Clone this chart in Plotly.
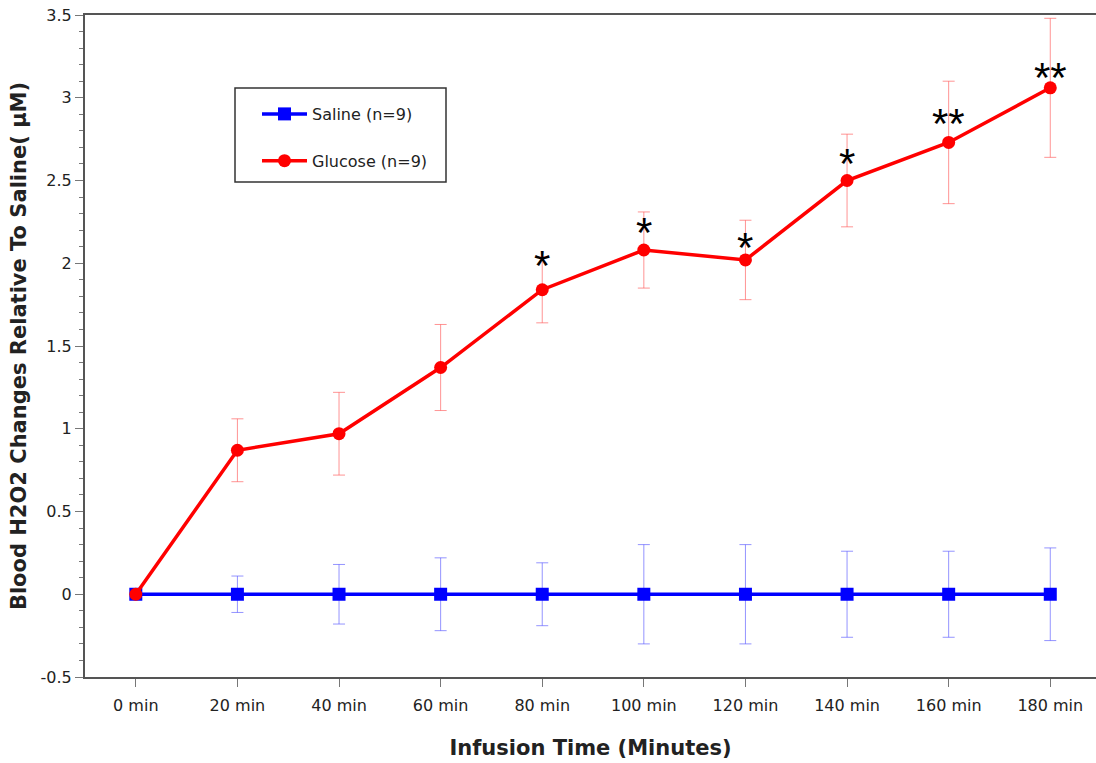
import plotly.graph_objects as go

categories = ["0 min", "20 min", "40 min", "60 min", "80 min", "100 min", "120 min", "140 min", "160 min", "180 min"]
saline = [0, 0, 0, 0, 0, 0, 0, 0, 0, 0]
saline_err = [0, 0.11, 0.18, 0.22, 0.19, 0.30, 0.30, 0.26, 0.26, 0.28]
glucose = [0, 0.87, 0.97, 1.37, 1.84, 2.08, 2.02, 2.50, 2.73, 3.06]
glucose_err = [0, 0.19, 0.25, 0.26, 0.20, 0.23, 0.24, 0.28, 0.37, 0.42]
sig_cats = ["80 min", "100 min", "120 min", "140 min", "160 min", "180 min"]
sig_text = ["*", "*", "*", "*", "**", "**"]
sig_y = [2.02, 2.22, 2.13, 2.64, 2.88, 3.16]

L, T, W, H = 85, 15, 1011, 662
def px(x):
    return (x - L) / W
def py(y):
    return 1 - (y - T) / H

FONT = "DejaVu Sans"

fig = go.Figure()
fig.add_trace(go.Scatter(
    x=categories, y=saline, name="Saline (n=9)", mode="lines+markers", legendgroup="s",
    line=dict(color="#0000ff", width=3.5),
    marker=dict(symbol="square", size=13, color="#0000ff"),
    error_y=dict(type="data", array=saline_err, color="rgba(90,90,255,0.65)", thickness=1, width=6),
))
fig.add_trace(go.Scatter(
    x=categories, y=glucose, name="Glucose (n=9)", mode="lines+markers", legendgroup="g",
    line=dict(color="#ff0000", width=3.5),
    marker=dict(symbol="circle", size=13, color="#ff0000"),
    error_y=dict(type="data", array=glucose_err, color="rgba(255,90,90,0.65)", thickness=1, width=6),
))

for c, t, yv in zip(sig_cats, sig_text, sig_y):
    fig.add_annotation(x=c, y=yv, text=t, showarrow=False, yshift=-6,
                       font=dict(family="Liberation Sans, Arial", size=42, color="black"))

fig.add_shape(type="rect", xref="paper", yref="paper",
              x0=px(235), x1=px(446), y0=py(182), y1=py(88),
              line=dict(color="#333333", width=1.5), fillcolor="rgba(0,0,0,0)")

fig.update_layout(
    width=1096, height=763,
    margin=dict(l=L, r=0, t=T, b=86),
    plot_bgcolor="white", paper_bgcolor="white",
    font=dict(family=FONT, color="#222222"),
    showlegend=True,
    legend=dict(x=px(257), y=py(97), xanchor="left", yanchor="top",
                borderwidth=0, bgcolor="rgba(0,0,0,0)",
                font=dict(size=16, color="#222222", family=FONT), itemwidth=45,
                tracegroupgap=23),
    xaxis=dict(
        range=[-0.5, 9.45], showgrid=False, zeroline=False,
        showline=True, linecolor="#555555", linewidth=2, mirror=True,
        ticks="outside", ticklen=8, tickcolor="#777777",
        ticklabelstandoff=5,
        tickfont=dict(size=16, color="#222222", family=FONT),
        title=dict(text="<b>Infusion Time (Minutes)</b>", font=dict(size=21, color="#222222", family=FONT), standoff=26),
    ),
    yaxis=dict(
        range=[-0.5, 3.5], showgrid=False, zeroline=False,
        showline=True, linecolor="#555555", linewidth=2,
        ticks="outside", ticklen=8, tickcolor="#777777",
        tickvals=[-0.5, 0, 0.5, 1, 1.5, 2, 2.5, 3, 3.5],
        ticktext=["-0.5", "0", "0.5", "1", "1.5", "2", "2.5", "3", "3.5"],
        minor=dict(ticks="outside", ticklen=4, dtick=0.1, tickcolor="#777777"),
        tickfont=dict(size=16, color="#222222", family=FONT),
        title=dict(text="<b>Blood H2O2 Changes Relative To Saline( μM)</b>", font=dict(size=21, color="#222222", family=FONT), standoff=8),
    ),
)

fig.write_html("out.html")
